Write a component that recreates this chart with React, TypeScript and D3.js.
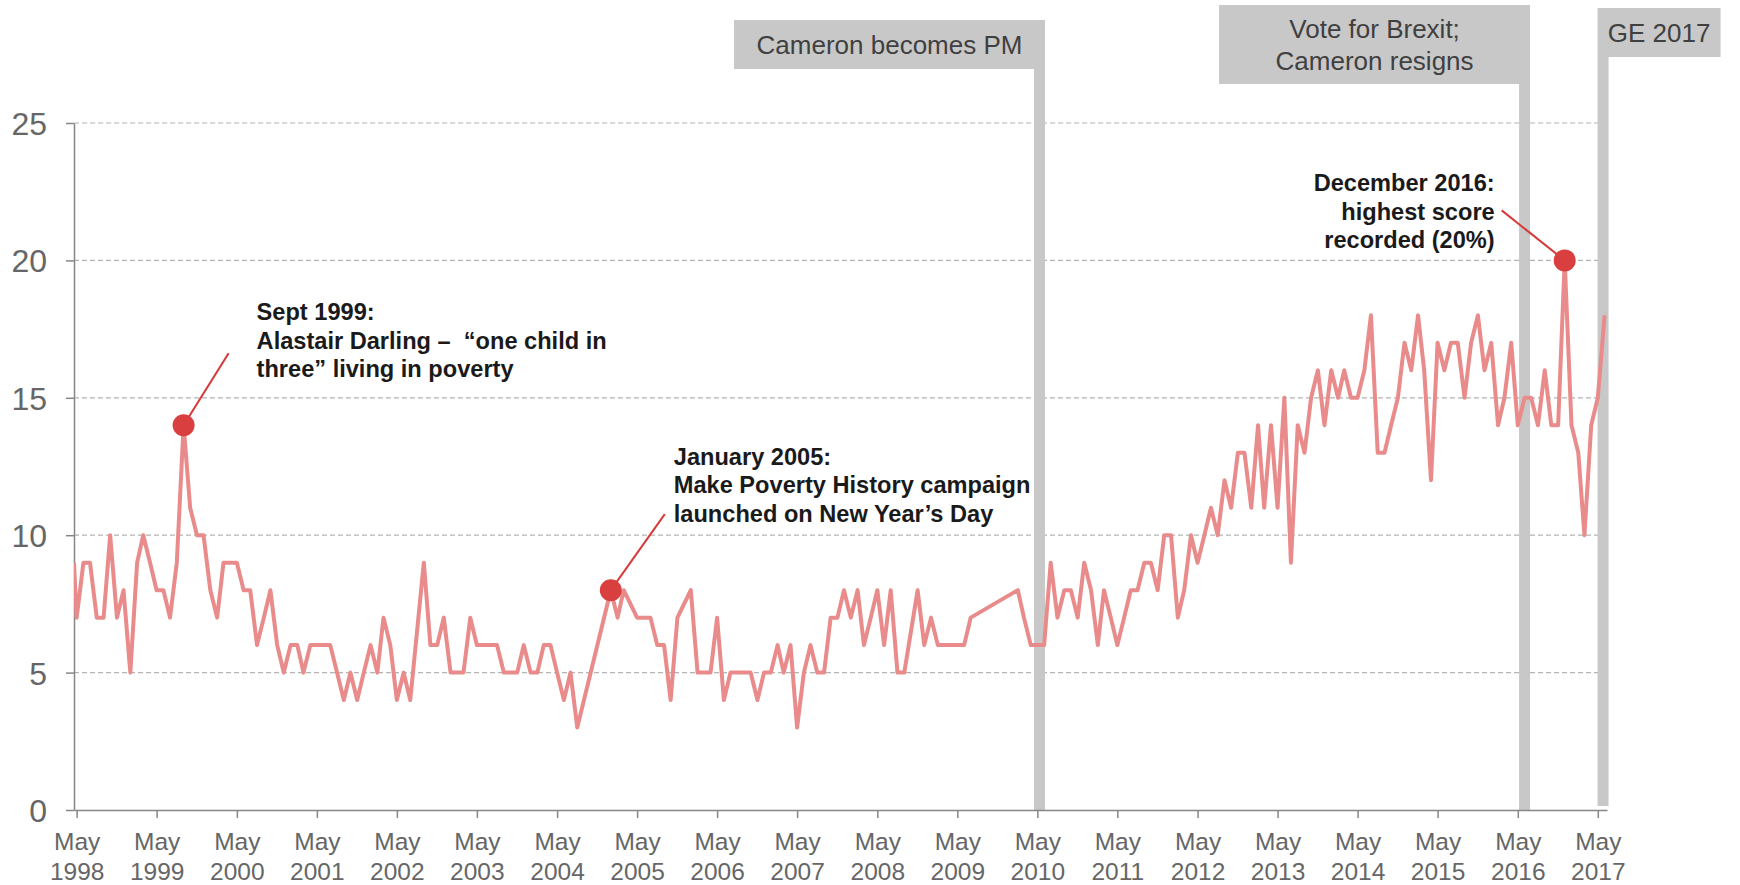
import React, { useEffect, useRef } from "react";
import * as d3 from "d3";

// survey starts just before the May 1998 tick
const firstDate = "1998-04-19";
const firstValue = 9;

// one value per month, May 1998 .. June 2017 (null = no reading that month)
const monthlyValues: (number | null)[] = [
  // May 1998 - Apr 1999
  7, 9, 9, 7, 7, 10, 7, 8, 5, 9, 10, 9,
  // May 1999 - Apr 2000
  8, 8, 7, 9, 14, 11, 10, 10, 8, 7, 9, 9,
  // May 2000 - Apr 2001
  9, 8, 8, 6, 7, 8, 6, 5, 6, 6, 5, 6,
  // May 2001 - Apr 2002
  6, 6, 6, 5, 4, 5, 4, 5, 6, 5, 7, 6,
  // May 2002 - Apr 2003
  4, 5, 4, null, 9, 6, 6, 7, 5, 5, 5, 7,
  // May 2003 - Apr 2004
  6, 6, 6, 6, 5, 5, 5, 6, 5, 5, 6, 6,
  // May 2004 - Apr 2005
  5, 4, 5, 3, null, null, null, null, 8, 7, 8, null,
  // May 2005 - Apr 2006
  7, 7, 7, 6, 6, 4, 7, null, 8, 5, 5, 5,
  // May 2006 - Apr 2007
  7, 4, 5, 5, 5, 5, 4, 5, 5, 6, 5, 6,
  // May 2007 - Apr 2008
  3, 5, 6, 5, 5, 7, 7, 8, 7, 8, 6, 7,
  // May 2008 - Apr 2009
  8, 6, 8, 5, 5, null, 8, 6, 7, 6, 6, 6,
  // May 2009 - Apr 2010
  6, 6, 7, null, null, null, null, null, null, 8, 7, 6,
  // May 2010 - Apr 2011
  6, 6, 9, 7, 8, 8, 7, 9, 8, 6, 8, 7,
  // May 2011 - Apr 2012
  6, 7, 8, 8, 9, 9, 8, 10, 10, 7, 8, 10,
  // May 2012 - Apr 2013
  9, 10, 11, 10, 12, 11, 13, 13, 11, 14, 11, 14,
  // May 2013 - Apr 2014
  11, 15, 9, 14, 13, 15, 16, 14, 16, 15, 16, 15,
  // May 2014 - Apr 2015
  15, 16, 18, 13, 13, 14, 15, 17, 16, 18, 16, 12,
  // May 2015 - Apr 2016
  17, 16, 17, 17, 15, 17, 18, 16, 17, 14, 15, 17,
  // May 2016 - Apr 2017
  14, 15, 15, 14, 16, 14, 14, 20, 14, 13, 10, 14,
  // May 2017 - Jun 2017
  15, 18,
];

const yTicks = [0, 5, 10, 15, 20, 25];
const tickYears = [
  1998, 1999, 2000, 2001, 2002, 2003, 2004, 2005, 2006, 2007,
  2008, 2009, 2010, 2011, 2012, 2013, 2014, 2015, 2016, 2017,
];

const events = [
  { date: "2010-05-11", lines: ["Cameron becomes PM"], boxTop: 20, boxH: 49, boxW: 311, side: "left", barEnd: 0 },
  { date: "2016-06-01", lines: ["Vote for Brexit;", "Cameron resigns"], boxTop: 5, boxH: 79, boxW: 311, side: "left", barEnd: 0 },
  { date: "2017-05-25", lines: ["GE 2017"], boxTop: 8, boxH: 49, boxW: 123, side: "right", barEnd: 4 },
];

const highlights = [
  {
    date: "1999-09-01", value: 14, anchor: "start",
    lines: ["Sept 1999:", "Alastair Darling \u2013  \u201cone child in", "three\u201d living in poverty"],
    textDx: 73, textDy: -105, lineDx: 45, lineDy: -72,
  },
  {
    date: "2005-01-01", value: 8, anchor: "start",
    lines: ["January 2005:", "Make Poverty History campaign", "launched on New Year\u2019s Day"],
    textDx: 63, textDy: -125, lineDx: 54, lineDy: -76,
  },
  {
    date: "2016-12-01", value: 20, anchor: "end",
    lines: ["December 2016:", "highest score", "recorded (20%)"],
    textDx: -70, textDy: -69, lineDx: -63, lineDy: -50,
  },
];

const W = 1740;
const H = 885;
const margin = { top: 123, right: 133, bottom: 75, left: 74 };
const FONT = "'Liberation Sans', Arial, Helvetica, sans-serif";

function App() {
  const svgRef = useRef<SVGSVGElement | null>(null);

  useEffect(() => {
    drawChart();
  }, []);

  const drawChart = () => {
    const svg = d3.select(svgRef.current);
    svg.selectAll("*").remove();

    const parse = d3.timeParse("%Y-%m-%d");
    const start = new Date(1998, 4, 1);
    const data = [{ date: parse(firstDate) as Date, value: firstValue as number | null }].concat(
      monthlyValues.map((v, i) => ({ date: d3.timeMonth.offset(start, i), value: v }))
    ).filter((d) => d.value !== null) as { date: Date; value: number }[];

    const x = d3
      .scaleTime()
      .domain([parse(firstDate) as Date, parse("2017-06-12") as Date])
      .range([margin.left, W - margin.right]);
    const y = d3
      .scaleLinear()
      .domain([0, 25])
      .range([H - margin.bottom, margin.top]);

    // gridlines
    svg
      .append("g")
      .selectAll("line")
      .data(yTicks.filter((t) => t > 0))
      .enter()
      .append("line")
      .attr("x1", margin.left)
      .attr("x2", W - margin.right)
      .attr("y1", (d) => y(d))
      .attr("y2", (d) => y(d))
      .attr("stroke", "#b3b3b3")
      .attr("stroke-width", 1.2)
      .attr("stroke-dasharray", "5,3");

    // event bars + label boxes
    const ev = svg.append("g");
    events.forEach((e) => {
      const cx = x(parse(e.date) as Date);
      const barW = 11;
      const barL = cx - barW / 2;
      const boxX = e.side === "left" ? barL + barW - e.boxW : barL;
      ev.append("rect")
        .attr("x", barL)
        .attr("y", e.boxTop + e.boxH)
        .attr("width", barW)
        .attr("height", y(0) - e.barEnd - (e.boxTop + e.boxH))
        .attr("fill", "#c8c8c8");
      ev.append("rect")
        .attr("x", boxX)
        .attr("y", e.boxTop)
        .attr("width", e.boxW)
        .attr("height", e.boxH)
        .attr("fill", "#c8c8c8");
      const mid = e.boxTop + e.boxH / 2;
      e.lines.forEach((ln, k) => {
        ev.append("text")
          .attr("x", boxX + e.boxW / 2)
          .attr("y", mid + (k - (e.lines.length - 1) / 2) * 32 + 9)
          .attr("text-anchor", "middle")
          .attr("font-family", FONT)
          .attr("font-size", 26)
          .attr("fill", "#404040")
          .text(ln);
      });
    });

    // y axis
    const yAxis = d3.axisLeft(y).tickValues(yTicks).tickSize(8).tickSizeOuter(0).tickPadding(19);
    const gy = svg.append("g").attr("transform", `translate(${margin.left},0)`).call(yAxis);
    gy.select(".domain").attr("stroke", "#868686").attr("stroke-width", 1.5);
    gy.selectAll(".tick line").attr("stroke", "#868686").attr("stroke-width", 1.5);
    gy.selectAll(".tick text")
      .attr("font-family", FONT)
      .attr("font-size", 32)
      .attr("fill", "#666")
      .attr("dy", "0.36em");

    // x axis
    const xAxis = d3
      .axisBottom(x)
      .tickValues(tickYears.map((yr) => new Date(yr, 4, 1)))
      .tickSize(8)
      .tickSizeOuter(0)
      .tickFormat(() => "");
    const gx = svg.append("g").attr("transform", `translate(0,${y(0)})`).call(xAxis);
    gx.select(".domain").attr("stroke", "#868686").attr("stroke-width", 1.5);
    gx.selectAll(".tick line").attr("stroke", "#868686").attr("stroke-width", 1.5);
    gx.selectAll(".tick text").remove();
    gx.selectAll(".tick").each(function (d: any) {
      const t = d3.select(this).append("text")
        .attr("text-anchor", "middle")
        .attr("font-family", FONT)
        .attr("font-size", 24.5)
        .attr("fill", "#666");
      t.append("tspan").attr("x", 0).attr("y", 40).text("May");
      t.append("tspan").attr("x", 0).attr("y", 70).text(String(d.getFullYear()));
    });

    // series
    svg.append("defs")
      .append("clipPath")
      .attr("id", "plot-clip")
      .append("rect")
      .attr("x", margin.left)
      .attr("y", 0)
      .attr("width", W - margin.left - margin.right)
      .attr("height", H);

    const line = d3
      .line<{ date: Date; value: number }>()
      .x((d) => x(d.date))
      .y((d) => y(d.value));

    svg.append("path")
      .datum(data)
      .attr("clip-path", "url(#plot-clip)")
      .attr("fill", "none")
      .attr("stroke", "#e98b8b")
      .attr("stroke-width", 4)
      .attr("stroke-linejoin", "round")
      .attr("d", line);

    // highlighted points
    const hl = svg.append("g");
    highlights.forEach((h) => {
      const px = x(parse(h.date) as Date);
      const py = y(h.value);
      hl.append("line")
        .attr("x1", px)
        .attr("y1", py)
        .attr("x2", px + h.lineDx)
        .attr("y2", py + h.lineDy)
        .attr("stroke", "#d63a3a")
        .attr("stroke-width", 2);
      hl.append("circle")
        .attr("cx", px)
        .attr("cy", py)
        .attr("r", 11)
        .attr("fill", "#d93f3f");
      h.lines.forEach((ln, k) => {
        hl.append("text")
          .attr("x", px + h.textDx)
          .attr("y", py + h.textDy + k * 28.3)
          .attr("text-anchor", h.anchor)
          .attr("font-family", FONT)
          .attr("font-size", 23.6)
          .attr("font-weight", "bold")
          .attr("fill", "#1a1a1a")
          .style("white-space", "pre")
          .text(ln);
      });
    });
  };

  return (
    <div style={{ position: "absolute", left: 0, top: 0 }}>
      <svg ref={svgRef} width={W} height={H} style={{ display: "block", background: "#fff" }} />
    </div>
  );
}

export default App;
